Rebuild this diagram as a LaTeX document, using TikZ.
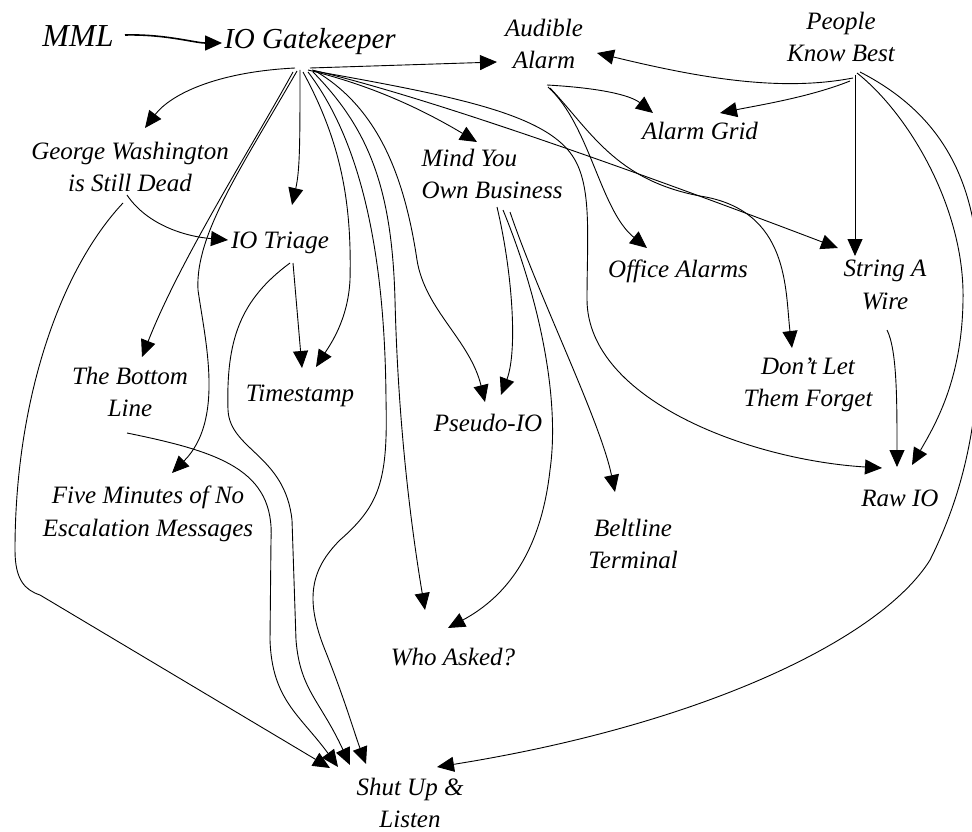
\documentclass[tikz,border=0pt]{standalone}
\usepackage{fontspec}
\setmainfont{Liberation Serif}
\usetikzlibrary{arrows.meta,calc}
\begin{document}
\begin{tikzpicture}[x=1pt,y=-1pt,
  lbl/.style={font=\fontsize{25}{32.5}\selectfont\itshape, align=center, inner sep=0pt},
  head/.style={font=\fontsize{29}{34}\selectfont\itshape, inner sep=0pt},
  link/.style={line width=0.9pt, -{Triangle[length=17pt,width=15pt]}},
  boldlink/.style={link, line width=1.6pt},
]
\useasboundingbox (0,0) rectangle (972,832);

% ---------- labels ----------
\node[head] (mml)  at (78,36)  {\fontsize{32}{34}\selectfont MML};
\node[head] (gk)   at (310,42) {IO Gatekeeper};
\node[lbl]  (aa)   at (544,44) {Audible\\Alarm};
\node[lbl]  (pkb)  at (841,37) {People\\Know Best};
\node[lbl]  (ag)   at (700,131) {Alarm Grid};
\node[lbl]  (gw)   at (130,167) {George Washington\\is Still Dead};
\node[lbl, align=left] (myob) at (492,174) {Mind You\\Own Business};
\node[lbl]  (tri)  at (280,243) {IO Triage};
\node[lbl]  (oa)   at (678,271) {Office Alarms};
\node[lbl]  (saw)  at (885,285) {String A\\Wire};
\node[lbl]  (tbl)  at (130,392) {The Bottom\\Line};
\node[lbl]  (ts)   at (300,396) {Timestamp};
\node[lbl]  (pio)  at (488,423) {Pseudo-IO};
\node[lbl]  (dlf)  at (808,385) {Don't Let\\Them Forget};
\node[lbl]  (raw)  at (900,498) {Raw IO};
\node[lbl]  (five) at (148,514) {Five Minutes of No\\Escalation Messages};
\node[lbl]  (bt)   at (633,544) {Beltline\\Terminal};
\node[lbl]  (wa)   at (453,657) {Who Asked?};
\node[lbl]  (sul)  at (410,803) {Shut Up \&\\Listen};

% ---------- connectors ----------
% MML feeds the gatekeeper
\draw[boldlink] ($(mml)+(47,-1)$) .. controls (165,34) and (195,43) .. ($(gk)+(-88,1)$);

% gatekeeper fan-out
\draw[link] ($(gk)+(0,26)$) -- ($(aa)+(-47,18)$);
\draw[link] ($(gk)+(-15,26)$) .. controls (215,72) and (170,95) .. ($(gw)+(15,-39)$);
\draw[link] ($(gk)+(-10,28)$) .. controls (300,140) and (300,170) .. ($(tri)+(12,-38)$);
\draw[link] ($(gk)+(-17,30)$) .. controls (250,150) and (180,260) .. ($(tbl)+(12,-35)$);
\draw[link] ($(gk)+(-13,29)$) .. controls (240,170) and (195,235) .. (198,290)
            .. controls (205,340) and (225,420) .. ($(five)+(24,-41)$);
\draw[link] ($(gk)+(-7,30)$) .. controls (340,140) and (352,200) .. (350,280)
            .. controls (348,320) and (330,345) .. ($(ts)+(16,-29)$);
\draw[link] ($(gk)+(-2,30)$) .. controls (360,140) and (385,250) .. (386,400)
            .. controls (388,480) and (380,505) .. (340,540)
            .. controls (310,570) and (305,600) .. (325,650)
            .. controls (345,700) and (355,735) .. ($(sul)+(-44,-39)$);
\draw[link] ($(gk)+(3,30)$) .. controls (370,130) and (392,190) .. (395,300)
            .. controls (398,420) and (410,520) .. ($(wa)+(-28,-47)$);
\draw[link] ($(gk)+(7,30)$) .. controls (380,110) and (405,180) .. (417,260)
            .. controls (425,310) and (470,340) .. ($(pio)+(-3,-21)$);
\draw[link] ($(gk)+(-2,28)$) .. controls (370,85) and (420,108) .. ($(myob)+(-15,-32)$);
\draw[link] ($(gk)+(2,28)$) .. controls (420,95) and (620,165) .. ($(saw)+(-47,-37)$);
\draw[link] ($(gk)+(4,29)$) .. controls (460,97) and (550,115) .. (575,160)
            .. controls (592,190) and (587,240) .. (587,300)
            .. controls (588,400) and (750,460) .. ($(raw)+(-18,-30)$);

% People Know Best
\draw[link] ($(pkb)+(12,41)$) .. controls (780,92) and (700,78) .. ($(aa)+(53,9)$);
\draw[link] ($(pkb)+(9,44)$) .. controls (810,97) and (760,105) .. ($(ag)+(20,-18)$);
\draw[link] ($(pkb)+(14,38)$) -- ($(saw)+(-30,-29)$);
\draw[link] ($(pkb)+(16,36)$) .. controls (910,115) and (965,210) .. (963,300)
            .. controls (962,380) and (935,425) .. ($(raw)+(12,-33)$);
\draw[link] ($(pkb)+(19,35)$) .. controls (930,108) and (972,165) .. (978,260)
            .. controls (984,380) and (975,470) .. (930,560)
            .. controls (880,640) and (700,725) .. ($(sul)+(27,-36)$);

% Audible Alarm
\draw[link] ($(aa)+(3,41)$) .. controls (600,88) and (630,95) .. ($(ag)+(-47,-18)$);
\draw[link] ($(aa)+(4,43)$) .. controls (590,125) and (600,210) .. ($(oa)+(-31,-23)$);
\draw[link] ($(aa)+(6,44)$) .. controls (590,130) and (615,180) .. (700,196)
            .. controls (790,210) and (785,290) .. ($(dlf)+(-16,-37)$);

% George Washington
\draw[link] ($(gw)+(-3,28)$) .. controls (145,222) and (180,236) .. ($(tri)+(-52,-3)$);
\draw[link] ($(gw)+(-7,36)$) .. controls (60,270) and (15,400) .. (15,550)
            .. controls (15,580) and (25,590) .. (40,595) -- ($(sul)+(-80,-35)$);

% IO Triage
\draw[link] ($(tri)+(13,20)$) -- ($(ts)+(2,-28)$);
\draw[link] ($(tri)+(10,20)$) .. controls (240,300) and (226,340) .. (228,410)
            .. controls (230,450) and (285,455) .. (292,520) -- (296,640)
            .. controls (300,690) and (320,700) .. ($(sul)+(-60,-38)$);

% The Bottom Line
\draw[link] ($(tbl)+(-3,41)$) .. controls (220,452) and (275,470) .. (271,540) -- (270,640)
            .. controls (272,700) and (300,715) .. ($(sul)+(-72,-36)$);

% Mind You Own Business
\draw[link] ($(myob)+(5,33)$) .. controls (512,270) and (518,350) .. ($(pio)+(13,-28)$);
\draw[link] ($(myob)+(11,36)$) .. controls (540,300) and (560,400) .. (550,470)
            .. controls (540,560) and (500,600) .. ($(wa)+(-5,-29)$);
\draw[link] ($(myob)+(18,38)$) .. controls (540,300) and (600,420) .. ($(bt)+(-18,-52)$);

% String A Wire
\draw[link] ($(saw)+(2,45)$) .. controls (897,350) and (897,400) .. ($(raw)+(-3,-31)$);

\end{tikzpicture}
\end{document}
